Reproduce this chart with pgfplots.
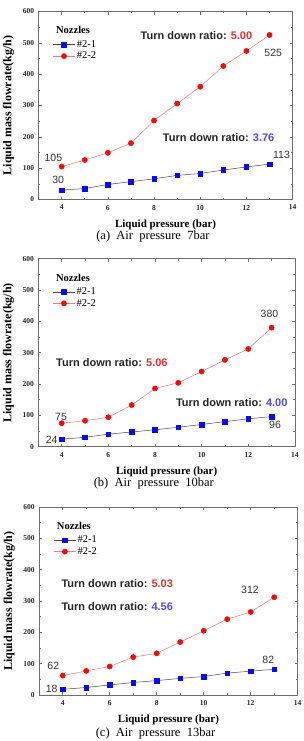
\documentclass[border=0pt]{standalone}
\usepackage{pgfplots}
\pgfplotsset{compat=1.18}
\usepackage{fontspec}
\setmainfont{Liberation Serif}
\newfontfamily\arialfont{Liberation Sans}

\definecolor{frame}{RGB}{110,110,110}
\definecolor{markblue}{RGB}{10,10,245}
\definecolor{markred}{RGB}{245,10,10}
\definecolor{linered}{RGB}{250,120,120}
\definecolor{lineblue}{RGB}{70,70,80}
\definecolor{ratiored}{RGB}{235,45,45}
\definecolor{ratioblue}{RGB}{75,75,225}
\definecolor{numgray}{RGB}{50,50,50}

\tikzset{
  numlabel/.style={font=\arialfont\fontsize{10.5}{11}\selectfont, text=numgray, anchor=center},
  ratio/.style={font=\arialfont\fontsize{11}{12}\selectfont\bfseries, text=black!85, anchor=west},
  nozzles/.style={font=\fontsize{10.5}{11}\selectfont\bfseries, anchor=west},
  caption/.style={font=\fontsize{12.5}{13}\selectfont, anchor=center},
}

\pgfplotsset{
  flowaxis/.style={
    scale only axis, height=188pt,
    xmin=3, xmax=14, ymin=0, ymax=600,
    xtick={4,6,...,14}, ytick={0,100,...,600},
    minor x tick num=1, minor y tick num=1,
    tick align=inside,
    major tick length=3pt, minor tick length=1.8pt,
    axis line style={draw=frame, line width=0.8pt},
    every tick/.style={draw=frame, line width=0.6pt},
    ticklabel style={font=\fontsize{7.5}{8}\selectfont\bfseries, text=black!85},
    /pgf/number format/assume math mode=true,
    xticklabel style={yshift=-2pt},
    yticklabel style={xshift=-1pt},
    xlabel={Liquid pressure (bar)},
    ylabel={Liquid mass flowrate(kg/h)},
    xlabel style={font=\fontsize{11}{12}\selectfont\bfseries, at={(axis description cs:0.5,0)}, anchor=center, yshift=-25pt},
    ylabel style={font=\fontsize{12}{13}\selectfont\bfseries, at={(axis description cs:0,0.5)}, anchor=center, yshift=30pt},
    legend style={draw=none, fill=none, font=\fontsize{10.5}{11}\selectfont,
      at={(axis description cs:0.055,0.855)}, anchor=north west,
      inner sep=0pt, row sep=0pt,
      nodes={inner sep=1.5pt}},
    legend cell align=left,
    legend image code/.code={
      \draw[mark repeat=2, mark phase=2, #1] plot coordinates {(0pt,0pt) (11pt,0pt) (22pt,0pt)};
    },
    clip=false,
  },
  s21/.style={draw=lineblue, line width=0.5pt, mark=square*, mark size=2.3pt,
    mark options={draw=markblue, fill=markblue, solid}},
  s22/.style={draw=linered, line width=0.5pt, mark=*, mark size=2.6pt,
    mark options={draw=markred, fill=markred, solid}},
}

\begin{document}
\begin{tikzpicture}
\path[use as bounding box] (0pt,0pt) rectangle (303pt,-741pt);

% (a) air pressure 7 bar
\begin{axis}[flowaxis, width=254pt, at={(38.6pt,-199.5pt)}, anchor=south west]
  \addplot[s21] coordinates {(4,30) (5,35) (6,48) (7,57) (8,66) (9,77) (10,83) (11,94) (12,104) (13,113)};
  \addlegendentry{\#2-1}
  \addplot[s22] coordinates {(4,105) (5,126) (6,149) (7,180) (8,252) (9,306) (10,360) (11,426) (12,474) (13,525)};
  \addlegendentry{\#2-2}
  \node[nozzles] at (axis description cs:0.055,0.9) {Nozzles};
  \node[numlabel] at (axis cs:3.64,133) {105};
  \node[numlabel] at (axis cs:3.85,62) {30};
  \node[numlabel] at (axis cs:13.16,467) {525};
  \node[numlabel] at (axis cs:13.52,142) {113};
  \node[ratio] at (axis cs:7.27,522) {Turn down ratio: \textcolor{ratiored}{5.00}};
  \node[ratio] at (axis cs:8.23,198) {Turn down ratio: \textcolor{ratioblue}{3.76}};
  \node[caption] at (axis description cs:0.45,0) [yshift=-37pt] {(a)\ \ Air\ \ pressure\ \ 7bar};
\end{axis}

% (b) air pressure 10 bar
\begin{axis}[flowaxis, width=256.5pt, at={(38.4pt,-446.7pt)}, anchor=south west]
  \addplot[s21] coordinates {(4,24) (5,30) (6,40) (7,47) (8,54) (9,62) (10,71) (11,80) (12,89) (13,96)};
  \addlegendentry{\#2-1}
  \addplot[s22] coordinates {(4,75) (5,83) (6,94) (7,133) (8,186) (9,204) (10,240) (11,277) (12,312) (13,380)};
  \addlegendentry{\#2-2}
  \node[nozzles] at (axis description cs:0.055,0.9) {Nozzles};
  \node[numlabel] at (axis cs:3.97,95) {75};
  \node[numlabel] at (axis cs:3.57,23) {24};
  \node[numlabel] at (axis cs:12.91,425) {380};
  \node[numlabel] at (axis cs:13.15,69) {96};
  \node[ratio] at (axis cs:3.61,268) {Turn down ratio: \textcolor{ratiored}{5.06}};
  \node[ratio] at (axis cs:8.75,140) {Turn down ratio: \textcolor{ratioblue}{4.00}};
  \node[caption] at (axis description cs:0.45,0) [yshift=-37pt] {(b)\ \ Air\ \ pressure\ \ 10bar};
\end{axis}

% (c) air pressure 13 bar
\begin{axis}[flowaxis, width=258.5pt, at={(39.2pt,-695pt)}, anchor=south west]
  \addplot[s21] coordinates {(4,18) (5,24) (6,32) (7,40) (8,46) (9,53) (10,59) (11,70) (12,76) (13,82)};
  \addlegendentry{\#2-1}
  \addplot[s22] coordinates {(4,62) (5,77) (6,91) (7,121) (8,133) (9,169) (10,205) (11,242) (12,265) (13,312)};
  \addlegendentry{\#2-2}
  \node[nozzles] at (axis description cs:0.055,0.9) {Nozzles};
  \node[numlabel] at (axis cs:3.6,93) {62};
  \node[numlabel] at (axis cs:3.53,20) {18};
  \node[numlabel] at (axis cs:11.97,335) {312};
  \node[numlabel] at (axis cs:12.75,113) {82};
  \node[ratio] at (axis cs:3.8,356) {Turn down ratio: \textcolor{ratiored}{5.03}};
  \node[ratio] at (axis cs:3.8,282) {Turn down ratio: \textcolor{ratioblue}{4.56}};
  \node[caption] at (axis description cs:0.45,0) [yshift=-38pt] {(c)\ \ Air\ \ pressure\ \ 13bar};
\end{axis}
\end{tikzpicture}
\end{document}
